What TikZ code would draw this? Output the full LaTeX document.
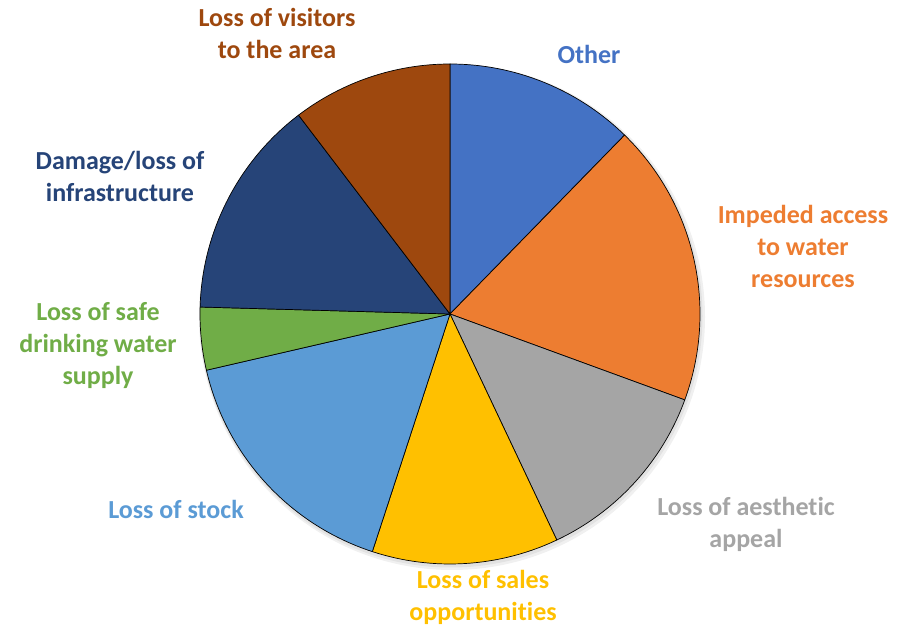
\documentclass[tikz,border=0pt]{standalone}
\usepackage{fontspec}
\setmainfont{Carlito}[Ligatures=NoCommon]
\usepackage{xcolor}
\usepackage{tikz}
\usetikzlibrary{calc}

\definecolor{OtherBlue}{HTML}{4472C4}
\definecolor{ImpOrange}{HTML}{ED7D31}
\definecolor{AesGray}{HTML}{A5A5A5}
\definecolor{SalesGold}{HTML}{FFC000}
\definecolor{StockBlue}{HTML}{5B9BD5}
\definecolor{WaterGreen}{HTML}{70AD47}
\definecolor{InfraNavy}{HTML}{264478}
\definecolor{VisitBrown}{HTML}{9E480E}

\tikzset{
  slice/.style={draw=black, line width=0.7pt, line join=round},
  lbl/.style={font=\bfseries\fontsize{26}{32}\selectfont, align=center, inner sep=0pt}
}

\begin{document}
\begin{tikzpicture}[x=1pt, y=1pt]
    \useasboundingbox (0,0) rectangle (911,627);
    \coordinate (Centre) at (450,313);

    % soft shadow
    \fill[black, opacity=0.06] ($(Centre)+(2,-3)$) circle (253);
    \fill[black, opacity=0.06] ($(Centre)+(1,-2)$) circle (251.5);

    % slices, clockwise from the top
    \filldraw[slice, fill=OtherBlue] (Centre) -- +(90:250) arc[start angle=90, end angle=45.7, radius=250] -- cycle;
    \filldraw[slice, fill=ImpOrange] (Centre) -- +(45.7:250) arc[start angle=45.7, end angle=-20.1, radius=250] -- cycle;
    \filldraw[slice, fill=AesGray] (Centre) -- +(-20.1:250) arc[start angle=-20.1, end angle=-64.7, radius=250] -- cycle;
    \filldraw[slice, fill=SalesGold] (Centre) -- +(-64.7:250) arc[start angle=-64.7, end angle=-108.1, radius=250] -- cycle;
    \filldraw[slice, fill=StockBlue] (Centre) -- +(-108.1:250) arc[start angle=-108.1, end angle=-167, radius=250] -- cycle;
    \filldraw[slice, fill=WaterGreen] (Centre) -- +(-167:250) arc[start angle=-167, end angle=-181.6, radius=250] -- cycle;
    \filldraw[slice, fill=InfraNavy] (Centre) -- +(178.4:250) arc[start angle=178.4, end angle=127.3, radius=250] -- cycle;
    \filldraw[slice, fill=VisitBrown] (Centre) -- +(127.3:250) arc[start angle=127.3, end angle=90, radius=250] -- cycle;

    % labels
    \node[lbl, text=VisitBrown] (Visitors) at (277,594) {Loss of visitors\\to the area};
    \node[lbl, text=OtherBlue] (Other) at (589,573) {Other};
    \node[lbl, text=ImpOrange] (Impeded) at (803,381) {Impeded access\\to water\\resources};
    \node[lbl, text=AesGray] (Aesthetic) at (746,103) {Loss of aesthetic\\appeal};
    \node[lbl, text=SalesGold] (Sales) at (483,30) {Loss of sales\\opportunities};
    \node[lbl, text=StockBlue] (Stock) at (176,118) {Loss of stock};
    \node[lbl, text=WaterGreen] (Drinking) at (98,281) {Loss of safe\\drinking water\\supply};
    \node[lbl, text=InfraNavy] (Infra) at (120,451) {Damage/loss of\\infrastructure};
\end{tikzpicture}
\end{document}
